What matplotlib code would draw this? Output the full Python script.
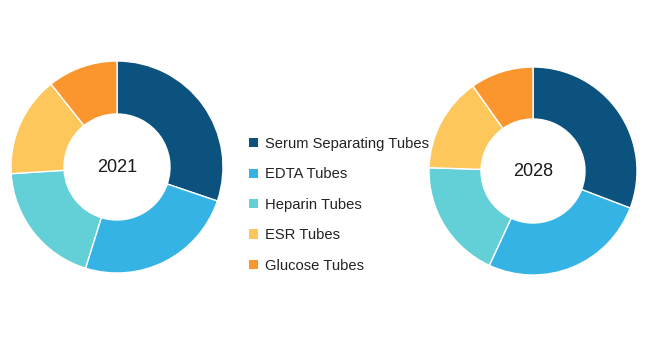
import matplotlib
matplotlib.use("Agg")
import matplotlib.pyplot as plt

categories = ["Serum Separating Tubes", "EDTA Tubes", "Heparin Tubes", "ESR Tubes", "Glucose Tubes"]
share_2021 = [30.2, 24.6, 19.2, 15.3, 10.7]
share_2028 = [30.8, 26.1, 18.6, 14.7, 9.8]
years = ["2021", "2028"]
colors = ["#0B527F", "#35B3E5", "#63CFD6", "#FEC75C", "#FB952E"]

plt.rcParams['font.family'] = ['Liberation Sans', 'DejaVu Sans']

fig = plt.figure(figsize=(6.5, 3.41), dpi=100)
fig.patch.set_facecolor("white")

axes_rects = [
    [11/650, 68/341, 212/650, 212/341],
    [429/650, 66/341, 208/650, 208/341],
]
wedges_first = None
for rect, vals, yr in zip(axes_rects, [share_2021, share_2028], years):
    ax = fig.add_axes(rect)
    wedges, _ = ax.pie(vals, colors=colors, startangle=90, counterclock=False,
                       radius=1.0, wedgeprops=dict(width=0.5, edgecolor="white", linewidth=1.0))
    ax.set_xlim(-1, 1)
    ax.set_ylim(-1, 1)
    ax.set_aspect("equal")
    ax.axis("off")
    ax.text(0, 0, yr, ha="center", va="center", fontsize=13, color="#1a1a1a")
    if wedges_first is None:
        wedges_first = wedges

leg = fig.legend(wedges_first, categories, loc="upper left",
                 bbox_to_anchor=(243/650, 1 - 131/341), frameon=False,
                 fontsize=10.6, handlelength=0.6, handleheight=0.6,
                 handletextpad=0.5, labelspacing=1.12, borderaxespad=0)
for t in leg.get_texts():
    t.set_color("#222222")
for h in leg.legend_handles:
    h.set_edgecolor("none")

fig.savefig("out.png", dpi=100, facecolor="white")
